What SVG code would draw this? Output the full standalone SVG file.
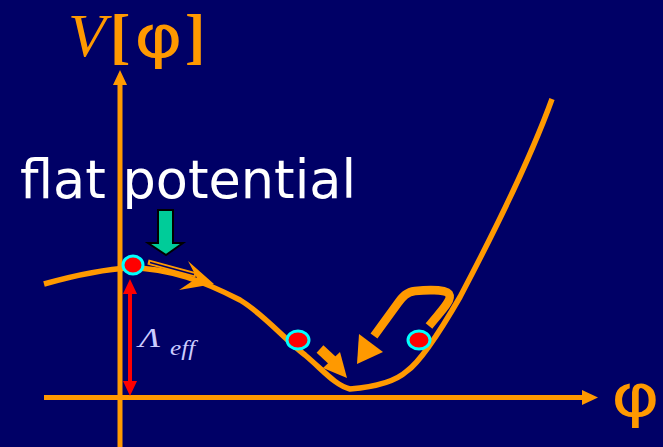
<svg xmlns="http://www.w3.org/2000/svg" width="663" height="447" viewBox="0 0 663 447">
<style>
.or{fill:none;stroke:#FF9900;stroke-linecap:butt}
.orf{fill:#FF9900}
.ball{fill:#FF0000;stroke:#00FFFF;stroke-width:3}
.title{fill:#FF9900}
.lam{fill:#CCCCFF;font-family:"Liberation Serif",serif;font-style:italic}
</style>
<rect width="663" height="447" fill="#000066"/>
<g id="axes">
<line class="or" x1="120" y1="447" x2="120" y2="84" stroke-width="5"/>
<polygon class="orf" points="120,70 113,85 127,85"/>
<line class="or" x1="44" y1="397.5" x2="584" y2="397.5" stroke-width="5"/>
<polygon class="orf" points="598,397.5 582,390 582,405"/>
</g>
<g id="labels">
<text x="68" y="56" font-family="Liberation Serif, serif" font-style="italic" font-size="62" class="title">V</text>
<text x="110" y="57" font-family="Liberation Serif, serif" font-weight="bold" font-size="61" class="title">[</text>
<text transform="translate(134,57) scale(1.28,1)" font-family="DejaVu Sans, sans-serif" font-size="58" class="title">φ</text>
<text x="185" y="57" font-family="Liberation Serif, serif" font-weight="bold" font-size="61" class="title">]</text>
<text transform="translate(611,416) scale(1.28,1)" font-family="DejaVu Sans, sans-serif" font-size="58" class="title">φ</text>
<text x="20" y="198" font-family="DejaVu Sans, sans-serif" font-size="52.5" fill="#FFFFFF">flat potential</text>
<text class="lam" transform="translate(139,347) scale(1.3,1)" font-size="27">Λ</text>
<text class="lam" transform="translate(170,355) scale(1.2,1)" font-size="21">eff</text>
</g>
<g id="potential">
<path class="or" stroke-width="5.5" d="M44,284 C80,274 105,269 130,268 C170,268 205,282 240,300 C265,315 285,340 305,355 C325,372 335,385 350,389 C375,387 395,382 407,371 C420,362 438,335 460,297 C490,240 530,160 552,99" stroke-linecap="round"/>
</g>
<g id="connectors">
<line x1="148" y1="262" x2="196" y2="275" stroke="#FF9900" stroke-width="5"/>
<line x1="150" y1="262.5" x2="194" y2="274.5" stroke="#000066" stroke-width="1.6"/>
<polygon class="orf" points="188,261 214,284 179,290 197,278"/>
<line x1="320" y1="349" x2="334" y2="362" stroke="#FF9900" stroke-width="10"/>
<polygon class="orf" points="323,368 340,352 347,378"/>
<path class="or" stroke-width="8.5" d="M429,326 C440,312 453,300 449,294 C445,289 425,290 415,291 C407,292 403,296 398,303 L374,336"/>
<polygon class="orf" points="357,364 359,334 383,352"/>
<line x1="130" y1="290" x2="130" y2="384" stroke="#FF0000" stroke-width="4"/>
<polygon fill="#FF0000" points="130,279 123,294 137,294"/>
<polygon fill="#FF0000" points="130,396 123,381 137,381"/>
<polygon fill="#00CC99" stroke="#000000" stroke-width="2" points="158,210 173,210 173,243 183,243 166,255 148,243 158,243"/>
</g>
<g id="ball1"><ellipse class="ball" cx="133" cy="265" rx="10" ry="9"/></g>
<g id="ball2"><ellipse class="ball" cx="298" cy="340" rx="11" ry="9"/></g>
<g id="ball3"><ellipse class="ball" cx="419" cy="340" rx="11" ry="9"/></g>
</svg>
